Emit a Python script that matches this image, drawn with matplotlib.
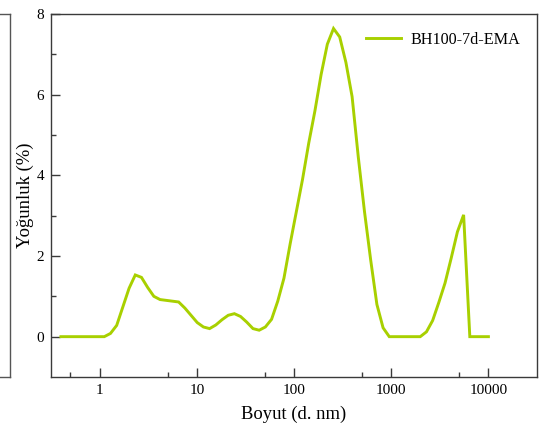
import matplotlib
matplotlib.use("Agg")
import matplotlib.pyplot as plt
from matplotlib.ticker import FixedLocator, NullFormatter

# Size bins (d. nm) and intensity distribution (%)
size_nm = [0.4, 0.4632, 0.5365, 0.6213, 0.7195, 0.8332, 0.9649, 1.117, 1.294, 1.499,
           1.736, 2.010, 2.328, 2.696, 3.122, 3.615, 4.187, 4.849, 5.615, 6.503,
           7.531, 8.721, 10.10, 11.70, 13.54, 15.69, 18.17, 21.04, 24.36, 28.21,
           32.67, 37.84, 43.82, 50.75, 58.77, 68.06, 78.82, 91.28, 105.7, 122.4,
           141.8, 164.2, 190.1, 220.2, 255.0, 295.3, 342.0, 396.1, 458.7, 531.2,
           615.1, 712.4, 825.0, 955.4, 1106, 1281, 1484, 1718, 1990, 2305,
           2669, 3091, 3580, 4145, 4801, 5560, 6439, 7456, 8635, 10000]
intensity = [0, 0, 0, 0, 0, 0, 0, 0, 0.08, 0.28,
             0.74, 1.20, 1.53, 1.47, 1.22, 1.00, 0.92, 0.90, 0.88, 0.86,
             0.71, 0.53, 0.35, 0.24, 0.20, 0.29, 0.42, 0.53, 0.57, 0.50,
             0.36, 0.20, 0.16, 0.24, 0.43, 0.88, 1.45, 2.30, 3.10, 3.90,
             4.80, 5.60, 6.50, 7.25, 7.64, 7.43, 6.80, 5.95, 4.45, 3.10,
             1.90, 0.80, 0.22, 0, 0, 0, 0, 0, 0, 0.12,
             0.40, 0.85, 1.33, 1.95, 2.60, 3.02, 0, 0, 0, 0]
series_label = "BH100-7d-EMA"

x_major = [1, 10, 100, 1000, 10000]
x_major_labels = ["1", "10", "100", "1000", "10000"]
x_minor = [0.5, 5, 50, 500, 5000]
y_major = [0, 2, 4, 6, 8]
y_minor = [1, 3, 5, 7]

plt.rcParams["font.family"] = ["Liberation Serif", "DejaVu Serif"]

W, H = 539, 430
fig = plt.figure(figsize=(W / 100, H / 100), dpi=100)

frame_col = "#3a3a3a"

# neighbouring panel, only its right edge shows
ax_prev = fig.add_axes([-300 / W, (H - 377) / H, 310 / W, 363 / H])
ax_prev.set_xticks([])
ax_prev.set_yticks([])
for s in ax_prev.spines.values():
    s.set_color("#555555")
    s.set_linewidth(1.0)

ax = fig.add_axes([51 / W, (H - 377) / H, 486 / W, 363 / H])
ax.plot(size_nm, intensity, color="#a8d000", lw=2.1, label=series_label,
        solid_joinstyle="miter")
ax.set_xscale("log")
ax.set_xlim(10 ** -0.5, 10 ** 4.5)
ax.set_ylim(-1, 8)

ax.xaxis.set_major_locator(FixedLocator(x_major))
ax.set_xticklabels(x_major_labels)
ax.xaxis.set_minor_locator(FixedLocator(x_minor))
ax.xaxis.set_minor_formatter(NullFormatter())
ax.set_yticks(y_major)
ax.yaxis.set_minor_locator(FixedLocator(y_minor))

ax.tick_params(which="both", direction="in", top=False, right=False,
               labelsize=11, color=frame_col, width=1.0)
ax.tick_params(which="major", length=6.5, pad=5)
ax.tick_params(which="minor", length=3.6)
for s in ax.spines.values():
    s.set_color(frame_col)
    s.set_linewidth(1.0)

ax.set_xlabel("Boyut (d. nm)", fontsize=13.4, labelpad=6)
ax.set_ylabel("Yoğunluk (%)", fontsize=13.4, labelpad=2)

ax.legend(loc="upper right", bbox_to_anchor=(0.995, 0.99), frameon=False,
          fontsize=11.6, handlelength=2.2, handletextpad=0.55)

fig.savefig("out.png", dpi=100)
